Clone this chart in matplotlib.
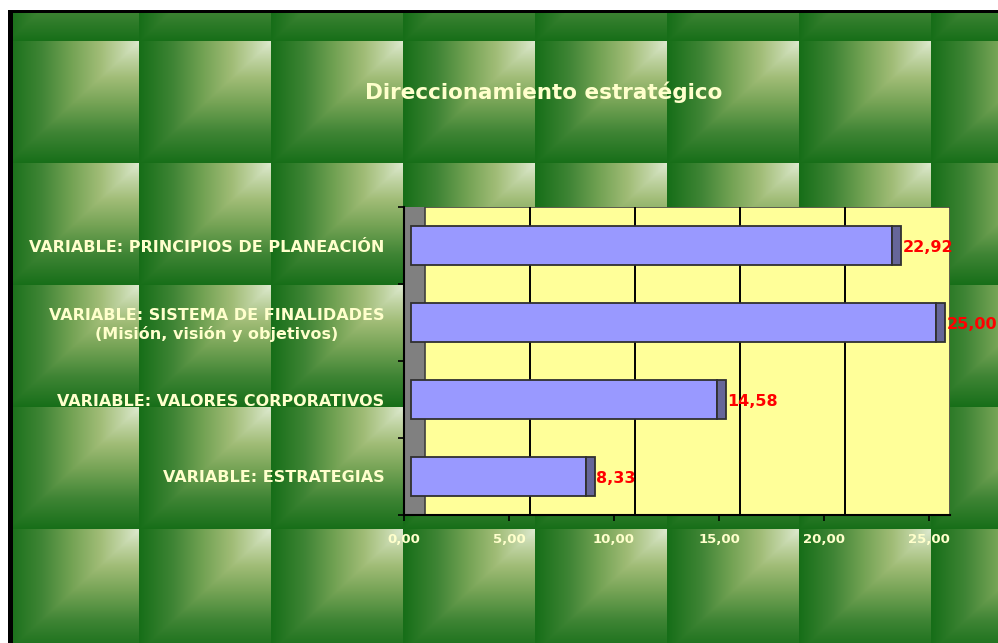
import numpy as np
import matplotlib.pyplot as plt
from matplotlib.patches import Rectangle

# datos
categorias = ['VARIABLE: ESTRATEGIAS',
              'VARIABLE: VALORES CORPORATIVOS',
              'VARIABLE: SISTEMA DE FINALIDADES\n(Misión, visión y objetivos)',
              'VARIABLE: PRINCIPIOS DE PLANEACIÓN']
valores = [8.33, 14.58, 25.00, 22.92]
ticks_x = [0, 5, 10, 15, 20, 25]
titulo = 'Direccionamiento estratégico'

W, H = 998, 643
fig = plt.figure(figsize=(W / 100, H / 100), dpi=100)

# fondo con baldosas verdes (degradado de esquina)
xx, yy = np.meshgrid(np.arange(W), np.arange(H))
u = ((xx - 7) % 132) / 132.0
v = ((yy - 41) % 122) / 122.0
t = np.minimum(u, 1 - v)
paradas = [0, 0.25, 0.5, 0.7, 0.85, 1.0]
colores = np.array([(22, 110, 24), (62, 132, 52), (118, 164, 86),
                    (160, 188, 118), (190, 210, 160), (222, 234, 208)]) / 255.0
img = np.zeros((H, W, 3))
for c in range(3):
    img[..., c] = np.interp(t, paradas, colores[:, c])
img[:10, :] = 1
img[:, :8] = 1
img[10:13, 8:] = 0
img[10:, 8:13] = 0

ax_bg = fig.add_axes([0, 0, 1, 1])
ax_bg.imshow(img, extent=(0, W, H, 0), aspect='auto', interpolation='nearest')
ax_bg.set_xlim(0, W)
ax_bg.set_ylim(H, 0)
ax_bg.axis('off')

fig.text(544 / W, 1 - 92 / H, titulo, ha='center', va='center',
         fontsize=15.5, fontweight='bold', color='#ffffcc')

# area del grafico
x0, x1, y0, y1 = 404, 950, 207, 515
ax = fig.add_axes([x0 / W, 1 - y1 / H, (x1 - x0) / W, (y1 - y0) / H])
ax.set_facecolor('none')
desp = 1 / 3  # profundidad 3D
ax.set_xlim(-desp, 25 + 2 * desp)
ax.set_ylim(-0.5, 3.5)

ax.add_patch(Rectangle((-desp, -0.5), 3 * desp, 4, facecolor='#808080',
                       edgecolor='none', zorder=0))
ax.add_patch(Rectangle((2 * desp, -0.5), 25, 4.0, facecolor='#ffff99',
                       edgecolor='#404040', lw=1.2, zorder=0))
for k in ticks_x[1:-1]:
    ax.axvline(k + 2 * desp, color='black', lw=1.4, zorder=1)

y = np.arange(len(valores))
ax.barh(y, valores, height=0.5, color='#9999ff', edgecolor='#303030',
        lw=1.3, zorder=3)
ax.barh(y, 0.43, left=valores, height=0.5, color='#666699',
        edgecolor='#303030', lw=1.3, zorder=3)
for yi, val in zip(y, valores):
    ax.text(val + 0.5, yi - 0.03, f'{val:.2f}'.replace('.', ','),
            ha='left', va='center', color='red', fontsize=11.5,
            fontweight='bold', zorder=4, clip_on=False)

ax.set_xticks([k - desp for k in ticks_x])
ax.set_xticklabels([f'{k:.2f}'.replace('.', ',') for k in ticks_x])
ax.tick_params(axis='x', direction='out', length=4, width=1.2, pad=9,
               colors='black', labelcolor='#ffffcc', labelsize=9.5)
for lab in ax.get_xticklabels():
    lab.set_fontweight('bold')

ax.set_yticks(np.arange(-0.5, 4, 1.0))
ax.set_yticklabels([])
ax.tick_params(axis='y', which='major', direction='out', length=4, width=1.2)
ax.set_yticks(y, minor=True)
ax.set_yticklabels(categorias, minor=True)
ax.tick_params(axis='y', which='minor', length=0, pad=14,
               labelcolor='#ffffcc', labelsize=11.5)
for lab in ax.get_yticklabels(minor=True):
    lab.set_fontweight('bold')
    lab.set_multialignment('center')

for s in ['top', 'right']:
    ax.spines[s].set_visible(False)
ax.spines['left'].set_linewidth(1.5)
ax.spines['bottom'].set_linewidth(1.5)

fig.savefig('out.png', dpi=100)
